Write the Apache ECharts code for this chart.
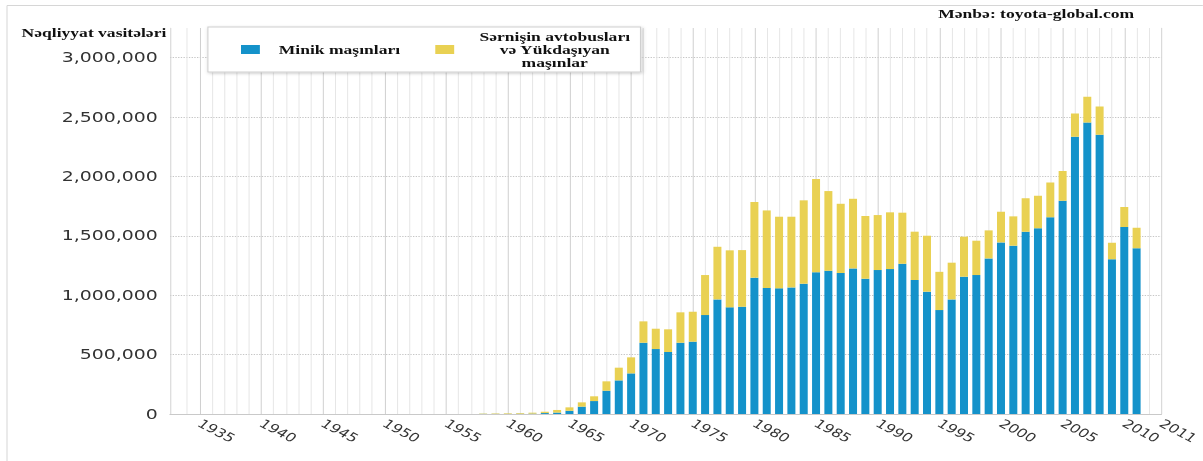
<!DOCTYPE html>
<html>
<head>
<meta charset="utf-8">
<script src="https://cdn.jsdelivr.net/npm/echarts@6/dist/echarts.min.js"></script>
<style>
html,body{margin:0;padding:0;background:#fff;}
#wrap{width:1203px;height:461px;overflow:hidden;position:relative;background:#fff;}
#chart{position:absolute;left:0;top:0;height:461px;transform-origin:0 0;}
</style>
</head>
<body>
<div id="wrap"><div id="chart"></div></div>
<script>
// ---- data ----
const years = [1958,1959,1960,1961,1962,1963,1964,1965,1966,1967,1968,1969,
  1970,1971,1972,1973,1974,1975,1976,1977,1978,1979,
  1980,1981,1982,1983,1984,1985,1986,1987,1988,1989,
  1990,1991,1992,1993,1994,1995,1996,1997,1998,1999,
  2000,2001,2002,2003,2004,2005,2006,2007,2008,2009,2010,2011];
const passengerCars = [1000,1000,1000,2000,3000,8000,12000,27000,62000,109000,196000,283000,
  342000,600000,547000,522000,600000,609000,833000,965000,898000,903000,
  1148000,1061000,1058000,1066000,1097000,1193000,1206000,1187000,1226000,1139000,
  1212000,1220000,1265000,1128000,1030000,875000,965000,1156000,1170000,1310000,
  1445000,1417000,1535000,1563000,1656000,1796000,2334000,2455000,2351000,1302000,1574000,1395000];
const busesTrucks = [3000,4000,5000,6000,8000,11000,22000,29000,36000,40000,79000,107000,
  135000,180000,171000,191000,256000,252000,337000,443000,480000,477000,
  637000,653000,603000,595000,702000,785000,671000,583000,586000,528000,
  463000,478000,430000,407000,471000,322000,309000,337000,289000,236000,
  258000,247000,281000,275000,294000,249000,197000,216000,239000,140000,168000,173000];
const gridYears = [];
for (let y = 1934; y <= 2012; y++) gridYears.push(y);
const xLabelYears = [1935,1940,1945,1950,1955,1960,1965,1970,1975,1980,1985,1990,1995,2000,2005,2010];
const xEndLabel = '2011';
const yTicks = [0,500000,1000000,1500000,2000000,2500000,3000000];
const seriesNames = ['Minik maşınları', 'Sərnişin avtobusları və Yükdaşıyan maşınlar'];
const legendLines2 = ['Sərnişin avtobusları', 'və Yükdaşıyan', 'maşınlar'];
const yTitle = 'Nəqliyyat vasitələri';
const sourceText = 'Mənbə: toyota-global.com';

// ---- layout ----
const S = 1.35;              // horizontal stretch of the reference image
const W = 1203 / S;
const xMin = 1932.6, xMax = 2013;
const BLUE = '#1492ca', YELLOW = '#e9d153';
const el = document.getElementById('chart');
el.style.width = W + 'px';
el.style.transform = 'scaleX(' + S + ')';

const chart = echarts.init(el, null, {renderer: 'svg', width: W, height: 461});
const serif = {fontFamily: 'Liberation Serif', fontWeight: 'bold', fontSize: 13, color: '#111'};

// value first, year second, so that the value dimension is the stacked one
function pairs(vals) { return years.map(function (y, i) { return [vals[i], y]; }); }

chart.setOption({
  animation: false,
  title: [
    {text: yTitle, left: 16, top: 26, padding: 0, textStyle: serif},
    {text: sourceText, left: 695, top: 7, padding: 0, textStyle: serif}
  ],
  legend: {
    left: 154, top: 27,
    padding: [3, 6, 3, 24.5],
    itemWidth: 14, itemHeight: 9, itemGap: 26,
    icon: 'rect',
    selectedMode: false,
    backgroundColor: '#fff',
    borderColor: '#cfcfcf', borderWidth: 0.8,
    shadowBlur: 3, shadowColor: 'rgba(0,0,0,0.22)', shadowOffsetX: 1, shadowOffsetY: 1,
    data: seriesNames,
    formatter: function (name) {
      if (name === seriesNames[0]) return '{a|' + name + '}';
      return legendLines2.map(function (l) { return '{b|' + l + '}'; }).join('\n');
    },
    textStyle: {
      fontFamily: 'Liberation Serif', fontWeight: 'bold', fontSize: 13, color: '#111',
      rich: {
        a: {fontFamily: 'Liberation Serif', fontWeight: 'bold', fontSize: 13, color: '#111', padding: [0, 0, 0, 9]},
        b: {fontFamily: 'Liberation Serif', fontWeight: 'bold', fontSize: 13, color: '#111', width: 115, align: 'center', lineHeight: 13, padding: [0, 0, 0, 12]}
      }
    }
  },
  grid: {left: 170 / S, right: 20 / S, top: 28, bottom: 47},
  xAxis: {
    type: 'value', min: xMin, max: xMax,
    axisLine: {show: true, lineStyle: {color: '#c9c9c9', width: 1}},
    axisTick: {show: false, customValues: gridYears},
    splitLine: {show: true, lineStyle: {color: ['#e6e6e6', '#d0d0d0', '#e6e6e6', '#e6e6e6', '#e6e6e6'], width: 0.75}},
    axisLabel: {
      customValues: xLabelYears.concat([xMax]),
      formatter: function (v) { return v >= xMax ? xEndLabel : String(v); },
      rotate: -35, margin: 8, hideOverlap: false,
      fontFamily: 'DejaVu Sans', fontSize: 12, color: '#333'
    }
  },
  yAxis: [{
    type: 'value', min: 0, max: 3250000,
    axisLine: {show: true, lineStyle: {color: '#d3d3d3', width: 0.75}},
    axisTick: {show: false, customValues: yTicks},
    splitLine: {show: true, lineStyle: {type: 'dotted', color: '#c6c6c6', width: 1}},
    axisLabel: {
      customValues: yTicks,
      formatter: function (v) { return v.toLocaleString('en-US'); },
      margin: 9, fontFamily: 'DejaVu Sans', fontSize: 14, color: '#333'
    }
  }, {
    type: 'value', min: 0, max: 3250000, position: 'right',
    axisLine: {show: true, lineStyle: {color: '#d3d3d3', width: 0.75}},
    axisTick: {show: false}, axisLabel: {show: false}, splitLine: {show: false}
  }],
  graphic: [
    {type: 'line', silent: true, shape: {x1: 7 / S, y1: 5.5, x2: 7 / S, y2: 461}, style: {stroke: '#d6d6d6', lineWidth: 0.75}},
    {type: 'line', silent: true, shape: {x1: 7 / S, y1: 5.5, x2: W, y2: 5.5}, style: {stroke: '#d6d6d6', lineWidth: 1}}
  ],
  series: [
    {
      name: seriesNames[0], type: 'bar', stack: 'total', barWidth: 8 / S, yAxisIndex: 0,
      encode: {x: 1, y: 0},
      itemStyle: {color: BLUE},
      data: pairs(passengerCars)
    },
    {
      name: seriesNames[1], type: 'bar', stack: 'total', barWidth: 8 / S, yAxisIndex: 0,
      encode: {x: 1, y: 0},
      itemStyle: {color: YELLOW},
      data: pairs(busesTrucks)
    }
  ]
});
</script>
</body>
</html>
